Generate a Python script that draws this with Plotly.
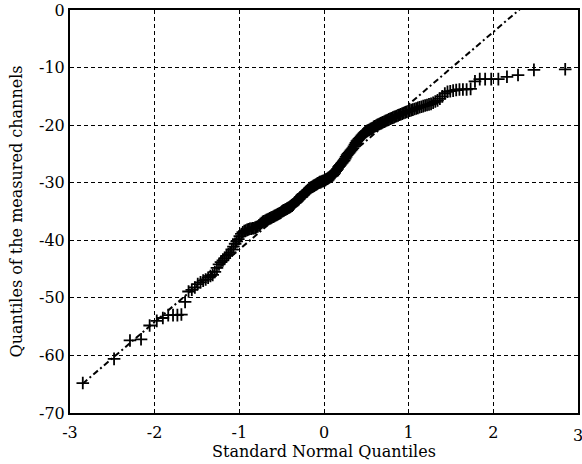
import plotly.graph_objects as go
from statistics import NormalDist

# Sorted measured-channel values, one per sample
sample_sorted = [
    -64.8, -60.6, -57.4, -57.2, -54.8, -54.0, -53.5, -53.0, -53.0, -53.0,
    -52.9, -50.7, -48.9,
    -48.6, -48.2, -47.6, -47.3, -47.0, -46.8, -46.5, -46.2, -46.0, -45.5,
    -44.8, -44.2, -43.8, -43.5, -43.1, -42.7, -42.4, -42.1, -41.6, -41.1,
    -40.6, -40.2, -39.8, -39.3, -38.9, -38.6, -38.4, -38.3, -38.2, -38.1,
    -38.0, -38.0, -37.9, -37.9, -37.8, -37.7, -37.6, -37.4, -37.2, -37.0,
    -36.8, -36.7, -36.6, -36.5, -36.4, -36.3, -36.2,
    -36.1, -36.0, -35.9, -35.8, -35.7,
    -35.6, -35.5, -35.4, -35.3, -35.2,
    -35.0, -34.9, -34.8, -34.7, -34.6,
    -34.5, -34.4, -34.3, -34.2, -34.1,
    -34.0, -33.8, -33.6, -33.4, -33.2,
    -33.0, -32.9, -32.8, -32.6, -32.5,
    -32.4, -32.2, -32.0, -31.8, -31.6,
    -31.5, -31.3, -31.2, -31.0, -30.9,
    -30.8, -30.7, -30.6, -30.5, -30.4,
    -30.3, -30.2, -30.1, -30.0, -29.9,
    -29.9, -29.8, -29.7, -29.7, -29.6,
    -29.5, -29.4, -29.3, -29.2, -29.1,
    -29.0, -28.9, -28.8, -28.7, -28.5,
    -28.3, -28.0, -27.8, -27.6, -27.3,
    -27.1, -26.9, -26.7, -26.5, -26.3,
    -26.1, -25.8, -25.5, -25.2, -25.0,
    -24.8, -24.6, -24.4, -24.2, -24.0,
    -23.7, -23.4, -23.1, -22.8, -22.6,
    -22.4, -22.2, -22.0, -21.8, -21.6,
    -21.4, -21.2, -21.1, -21.0, -20.9,
    -20.8, -20.7, -20.6, -20.5, -20.3,
    -20.2, -20.1, -20.0, -19.9, -19.8,
    -19.7, -19.6, -19.5, -19.4, -19.3,
    -19.2, -19.1, -19.0, -18.9, -18.8,
    -18.7, -18.6, -18.5, -18.4, -18.3,
    -18.2, -18.1, -18.0, -17.9, -17.8,
    -17.7, -17.6, -17.5, -17.4, -17.3,
    -17.2, -17.1, -17.0, -16.9, -16.8,
    -16.7, -16.6, -16.5, -16.4, -16.3,
    -16.1, -15.9, -15.7, -15.4, -15.0,
    -14.5, -14.2, -14.1, -14.0,
    -13.9, -13.8, -13.8, -13.8, -13.7,
    -12.4,
    -12.0, -12.0, -12.0, -12.0,
    -11.6, -11.3, -10.4, -10.3,
]

# Reference line (through the quartiles), endpoints
ref_x = [-2.85, 2.85]
ref_y = [-64.9, 6.9]

x_ticks = [-3, -2, -1, 0, 1, 2, 3]
y_ticks = [-70, -60, -50, -40, -30, -20, -10, 0]

# Theoretical standard normal quantiles for each rank (plotting positions)
n = len(sample_sorted)
nd = NormalDist()
theo_q = [nd.inv_cdf((i + 0.5) / n) for i in range(n)]

FONT = "DejaVu Serif"

fig = go.Figure()
fig.add_trace(go.Scatter(
    x=ref_x, y=ref_y, mode="lines",
    line=dict(color="black", width=2, dash="6px,3px,2px,3px"),
    showlegend=False, hoverinfo="skip",
))
fig.add_trace(go.Scatter(
    x=theo_q, y=sample_sorted, mode="markers",
    marker=dict(symbol="cross-thin", size=9, line=dict(color="black", width=1.8)),
    showlegend=False,
))

axis_common = dict(
    showline=True, linecolor="black", linewidth=2, mirror=True,
    showgrid=True, gridcolor="black", gridwidth=1, griddash="4px,3px",
    ticks="inside", ticklen=4, tickcolor="black", tickwidth=1,
    zeroline=False, automargin=False,
    tickfont=dict(family=FONT, size=16, color="black"),
)

# last x tick label sits on the page edge (partly cut, as in the original)
x_ticktext = [str(v) for v in x_ticks[:-1]] + [""]

fig.update_layout(
    width=582, height=464,
    margin=dict(l=70, r=4, t=10, b=51),
    paper_bgcolor="white", plot_bgcolor="white",
    xaxis=dict(range=[-3, 3], tickvals=x_ticks, ticktext=x_ticktext,
               ticklabelstandoff=4,
               title=dict(text="Standard Normal Quantiles", standoff=0,
                          font=dict(family=FONT, size=16, color="black")),
               **axis_common),
    yaxis=dict(range=[-70, 0], tickvals=y_ticks, ticktext=[str(v) for v in y_ticks],
               title=dict(text="Quantiles of the measured channels", standoff=12,
                          font=dict(family=FONT, size=16, color="black")),
               **axis_common),
)
fig.add_annotation(
    x=x_ticks[-1], xref="x", y=0, yref="paper", yanchor="top", yshift=-11,
    text=str(x_ticks[-1]), showarrow=False,
    font=dict(family=FONT, size=16, color="black"),
)

fig.write_html("out.html", config={"displayModeBar": False},
               post_script="document.body.style.margin='0';")
